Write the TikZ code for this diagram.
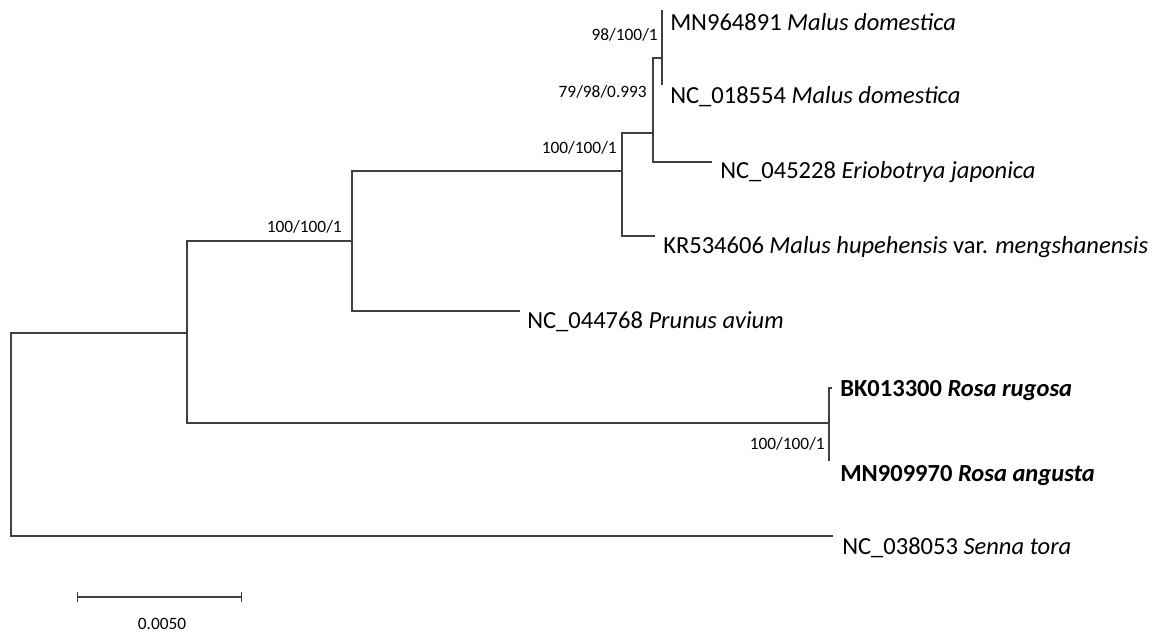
\documentclass[tikz,border=0pt]{standalone}
\usepackage{fontspec}
\setmainfont{Carlito}
\usetikzlibrary{arrows.meta, positioning}

\begin{document}
\begin{tikzpicture}[x=0.75pt, y=-0.75pt,
    branch/.style={draw=black!75, line width=1.1pt},
    taxon/.style={anchor=west, inner sep=0pt, font=\fontsize{18.4}{20}\selectfont},
    boot/.style={anchor=east, inner sep=0pt, font=\fontsize{13}{15}\selectfont},
    bar/.style={branch, {Bar[width=8pt]}-{Bar[width=8pt]}}
  ]
  \useasboundingbox (0,0) rectangle (1164,633);

  % inner nodes of the tree
  \coordinate (root) at (11,435);
  \coordinate (rosaceae) at (187,333);
  \coordinate (pyrinae) at (352,241);
  \coordinate (malinae) at (622,171);
  \coordinate (malus) at (653,133);
  \coordinate (domestica) at (662,58);
  \coordinate (rosa) at (829,423);

  % tips
  \coordinate (t1) at (662,10);
  \coordinate (t2) at (662,85);
  \coordinate (t3) at (712,162);
  \coordinate (t4) at (655,236);
  \coordinate (t5) at (520,311);
  \coordinate (t6) at (832,388);
  \coordinate (t7) at (829,461);
  \coordinate (t8) at (833,536);

  % branches
  \draw[branch] (root) |- (rosaceae);
  \draw[branch] (root) |- (t8);
  \draw[branch] (rosaceae) |- (pyrinae);
  \draw[branch] (rosaceae) |- (rosa);
  \draw[branch] (pyrinae) |- (malinae);
  \draw[branch] (pyrinae) |- (t5);
  \draw[branch] (malinae) |- (malus);
  \draw[branch] (malinae) |- (t4);
  \draw[branch] (malus) |- (domestica);
  \draw[branch] (malus) |- (t3);
  \draw[branch] (domestica) |- (t1);
  \draw[branch] (domestica) |- (t2);
  \draw[branch] (rosa) |- (t6);
  \draw[branch] (rosa) |- (t7);

  % taxa
  \node[taxon] (mn964891) at (670,22) {MN964891 \textit{Malus domestica}};
  \node[taxon] (nc018554) at (670,97) {NC\_018554 \textit{Malus domestica}};
  \node[taxon] (nc045228) at (720,172) {NC\_045228 \textit{Eriobotrya japonica}};
  \node[taxon] (kr534606) at (663,247) {KR534606 \textit{Malus hupehensis} var. \textit{mengshanensis}};
  \node[taxon] (nc044768) at (527,322) {NC\_044768 \textit{Prunus avium}};
  \node[taxon, font=\fontsize{18.4}{20}\selectfont\bfseries] (bk013300) at (840,391) {BK013300 \textit{Rosa rugosa}};
  \node[taxon, font=\fontsize{18.4}{20}\selectfont\bfseries] (mn909970) at (840,476) {MN909970 \textit{Rosa angusta}};
  \node[taxon] (nc038053) at (842,548) {NC\_038053 \textit{Senna tora}};

  % support values
  \node[boot] (bs1) at (658,35) {98/100/1};
  \node[boot] (bs2) at (647,92) {79/98/0.993};
  \node[boot] (bs3) at (617,148) {100/100/1};
  \node[boot] (bs4) at (342,227) {100/100/1};
  \node[boot] (bs5) at (825,444) {100/100/1};

  % scale bar
  \coordinate (sbleft) at (77,597);
  \coordinate (sbright) at (242,597);
  \draw[bar] (sbleft) -- (sbright);
  \node[boot, anchor=center] (sblabel) at (162,624) {0.0050};
\end{tikzpicture}
\end{document}
